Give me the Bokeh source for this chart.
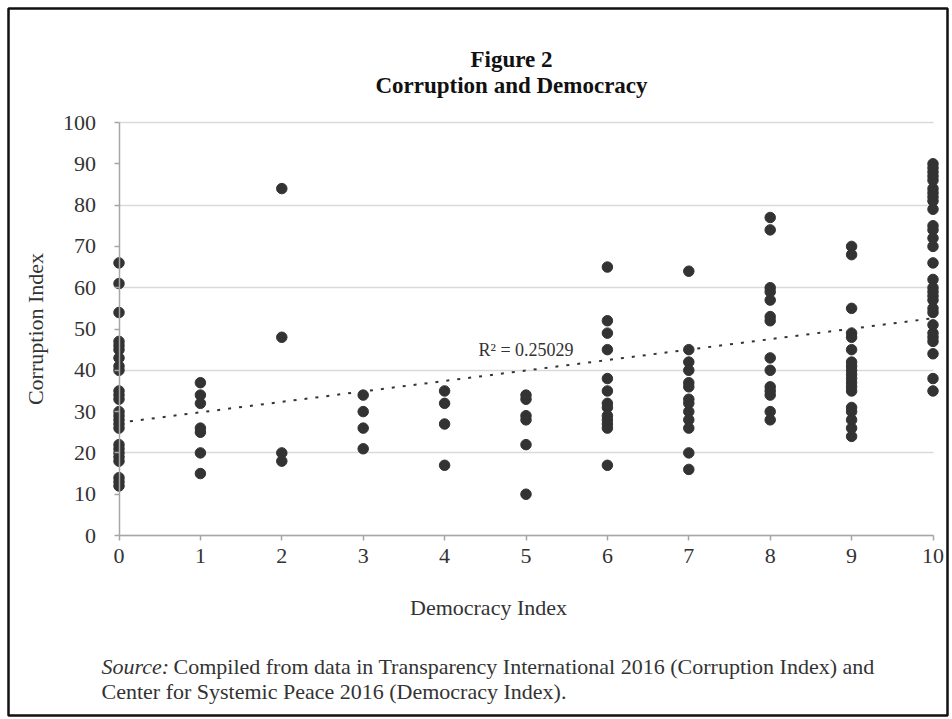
from bokeh.plotting import figure
from bokeh.models import Range1d, Label, FixedTicker
from bokeh.embed import file_html
from bokeh.resources import INLINE

# ---- data ----
democracy_levels = [0, 1, 2, 3, 4, 5, 6, 7, 8, 9, 10]
corr_d0 = [66, 61, 54, 47, 46, 45, 43, 41, 40, 35, 34, 33, 30, 29, 28, 27, 26, 22, 21, 20, 19, 18, 14, 13, 12]
corr_d1 = [37, 34, 32, 26, 25, 20, 15]
corr_d2 = [84, 48, 20, 18]
corr_d3 = [34, 30, 26, 21]
corr_d4 = [35, 32, 27, 17]
corr_d5 = [34, 33, 29, 28, 22, 10]
corr_d6 = [65, 52, 49, 45, 38, 35, 32, 31, 29, 28, 27, 26, 17]
corr_d7 = [64, 45, 42, 40, 37, 36, 33, 32, 30, 28, 26, 20, 16]
corr_d8 = [77, 74, 60, 59, 57, 53, 52, 43, 40, 36, 35, 34, 30, 28]
corr_d9 = [70, 68, 55, 49, 48, 45, 42, 41, 40, 39, 38, 37, 36, 35, 31, 30, 28, 26, 24]
corr_d10 = [90, 89, 88, 87, 86, 84, 83, 82, 81, 79, 75, 74, 72, 70, 66, 62, 60, 59, 58, 57,
            55, 54, 51, 49, 48, 47, 44, 38, 35]
trend_x = [0, 10]
trend_y = [27.3, 52.6]
r2_text = "R\u00b2 = 0.25029"
x_ticks = list(range(0, 11))
y_ticks = list(range(0, 101, 10))
grid_ticks = list(range(0, 101, 20))

columns = [corr_d0, corr_d1, corr_d2, corr_d3, corr_d4, corr_d5,
           corr_d6, corr_d7, corr_d8, corr_d9, corr_d10]
xs, ys = [], []
for lvl, vals in zip(democracy_levels, columns):
    for v in vals:
        xs.append(lvl)
        ys.append(v)

FONT = "Liberation Serif"
W, H = 952, 719
# outer box (frame = whole framed page) in pixels
BL, BR, BT, BB = 8, 947, 8, 715
# data area in pixels
X0, X10, Y100, Y0 = 118.5, 932.5, 122, 535

ppx = (X10 - X0) / 10.0
ppy = (Y0 - Y100) / 100.0
x_start = -(X0 - BL) / ppx
x_end = 10 + (BR - X10) / ppx
y_end = 100 + (Y100 - BT) / ppy
y_start = -(BB - Y0) / ppy


def px_to_x(px):
    return (px - X0) / ppx


def py_to_y(py):
    return (Y0 - py) / ppy


p = figure(width=W, height=H, output_backend="svg", toolbar_location=None,
           x_range=Range1d(x_start, x_end), y_range=Range1d(y_start, y_end),
           min_border_left=BL, min_border_right=W - BR,
           min_border_top=BT, min_border_bottom=H - BB)
p.outline_line_color = "#111111"
p.outline_line_width = 2.5
p.background_fill_color = "white"
p.border_fill_color = "white"

# grid
p.xgrid.visible = False
p.ygrid.ticker = FixedTicker(ticks=grid_ticks)
p.ygrid.grid_line_color = "#d9d9d9"
p.ygrid.grid_line_width = 1.5
p.ygrid.bounds = (0, 100)
p.ygrid.cross_bounds = (0, 10)

# axes, pinned at the data origin
for ax in (p.xaxis[0], p.yaxis[0]):
    ax.fixed_location = 0
    ax.axis_line_color = "#a6a6a6"
    ax.axis_line_width = 1.5
    ax.major_tick_line_color = "#a6a6a6"
    ax.major_tick_line_width = 1.5
    ax.major_tick_in = 0
    ax.major_tick_out = 5
    ax.minor_tick_line_color = None
    ax.major_label_text_font = FONT
    ax.major_label_text_font_size = "22px"
    ax.major_label_text_color = "#333333"
    ax.axis_label_text_font = FONT
    ax.axis_label_text_font_size = "22px"
    ax.axis_label_text_font_style = "normal"
    ax.axis_label_text_color = "#333333"

p.xaxis[0].bounds = (0, 10)
p.yaxis[0].bounds = (0, 100)
p.xaxis[0].ticker = FixedTicker(ticks=x_ticks)
p.yaxis[0].ticker = FixedTicker(ticks=y_ticks)
p.yaxis[0].axis_label = "Corruption Index"
p.xaxis[0].major_label_standoff = 8
p.yaxis[0].major_label_standoff = 18
p.yaxis[0].axis_label_standoff = 13

# trend line and points
p.line(trend_x, trend_y, line_color="#333333", line_width=2, line_dash="3 8")
p.scatter(xs, ys, size=10.5, fill_color="#333333", line_color="#333333")

p.add_layout(Label(x=5.0, y=44.8, text=r2_text, text_align="center", text_baseline="middle",
                   text_font=FONT, text_font_size="18px", text_color="#333333"))

# x-axis title (centred on the chart area, as in the reference)
p.add_layout(Label(x=px_to_x(488), y=py_to_y(607), text="Democracy Index", text_align="center",
                   text_baseline="middle", text_font=FONT, text_font_size="22px",
                   text_color="#333333"))

p.add_layout(Label(x=px_to_x(511), y=py_to_y(59), text="Figure 2", text_align="center",
                   text_baseline="middle", text_font=FONT, text_font_size="23px",
                   text_font_style="bold", text_color="#111111"))
p.add_layout(Label(x=px_to_x(511), y=py_to_y(85), text="Corruption and Democracy", text_align="center",
                   text_baseline="middle", text_font=FONT, text_font_size="23px",
                   text_font_style="bold", text_color="#111111"))

p.add_layout(Label(x=px_to_x(101), y=py_to_y(666), text="Source:", text_align="left",
                   text_baseline="middle", text_font=FONT, text_font_size="22px",
                   text_font_style="italic", text_color="#333333"))
p.add_layout(Label(x=px_to_x(173), y=py_to_y(666),
                   text="Compiled from data in Transparency International 2016 (Corruption Index) and",
                   text_align="left", text_baseline="middle", text_font=FONT, text_font_size="22px",
                   text_color="#333333"))
p.add_layout(Label(x=px_to_x(101), y=py_to_y(691),
                   text="Center for Systemic Peace 2016 (Democracy Index).",
                   text_align="left", text_baseline="middle", text_font=FONT, text_font_size="22px",
                   text_color="#333333"))

open("out.html", "w").write(file_html(p, INLINE))
